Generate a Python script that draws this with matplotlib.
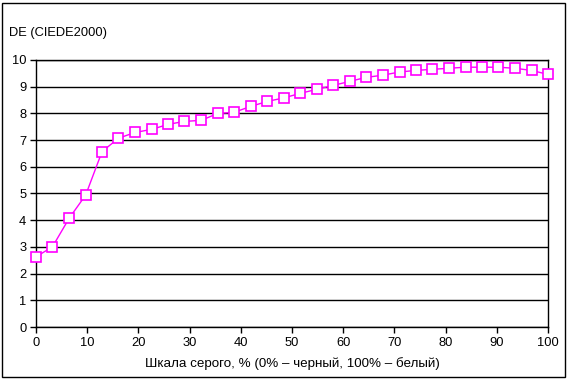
import matplotlib
matplotlib.use("Agg")
import matplotlib.pyplot as plt
from matplotlib.patches import Rectangle

plt.rcParams['font.family'] = ['Liberation Sans', 'DejaVu Sans']

gray = [0, 3.2, 6.5, 9.7, 12.9, 16.1, 19.4, 22.6, 25.8, 29.0, 32.3, 35.5,
        38.7, 41.9, 45.2, 48.4, 51.6, 54.8, 58.1, 61.3, 64.5, 67.7, 71.0,
        74.2, 77.4, 80.6, 83.9, 87.1, 90.3, 93.5, 96.8, 100]
de = [2.63, 3.00, 4.08, 4.94, 6.57, 7.07, 7.29, 7.40, 7.59, 7.70, 7.74, 8.00,
      8.04, 8.26, 8.45, 8.58, 8.75, 8.90, 9.05, 9.20, 9.35, 9.43, 9.55,
      9.61, 9.65, 9.69, 9.73, 9.73, 9.73, 9.69, 9.61, 9.46]

fig = plt.figure(figsize=(5.68, 3.79), dpi=100)
ax = fig.add_axes([36/568, 1-327/379, 512/568, 267/379])

ax.plot(gray, de, color='#FF00FF', lw=1, marker='s', markersize=7,
        markerfacecolor='white', markeredgecolor='#FF00FF', markeredgewidth=1.2,
        clip_on=False, zorder=3)

ax.set_xlim(0, 100)
ax.set_ylim(0, 10)
ax.set_xticks(range(0, 101, 10))
ax.set_yticks(range(0, 11))
ax.grid(axis='y', color='black', lw=1)
ax.set_axisbelow(True)
for s in ax.spines.values():
    s.set_linewidth(1)
ax.tick_params(direction='out', length=4, width=1, labelsize=9.3, pad=3)

ax.set_xlabel('Шкала серого, % (0% – черный, 100% – белый)', fontsize=9.6, labelpad=6)
fig.text(9/568, 1-33/379, 'DE (CIEDE2000)', fontsize=9.3, va='center', ha='left')

fig.patches.append(Rectangle((2/568, 2/379), 563/568, 374/379, transform=fig.transFigure,
                             fill=False, edgecolor='black', lw=1))

fig.savefig('out.png', dpi=100)
